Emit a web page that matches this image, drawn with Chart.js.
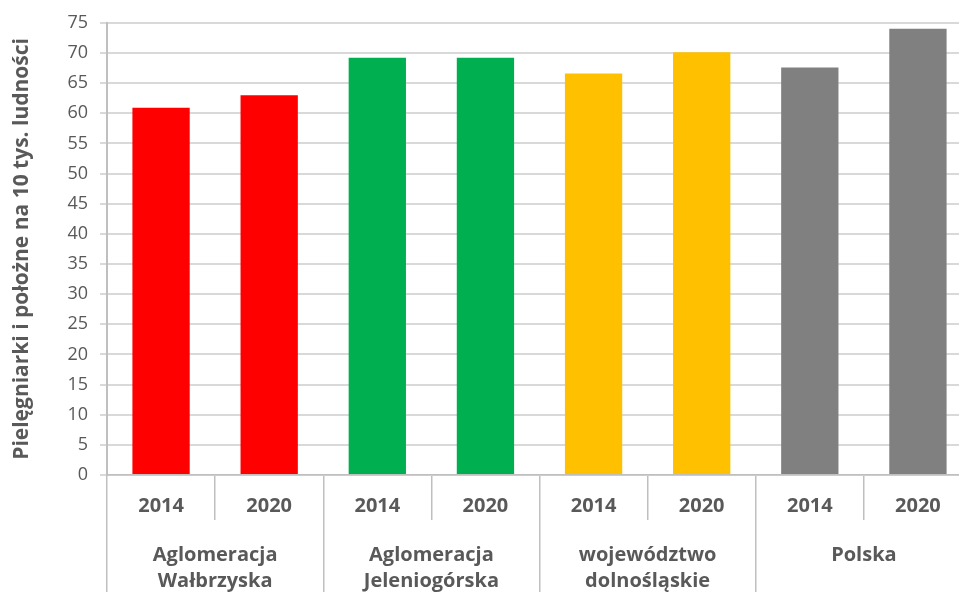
<!DOCTYPE html>
<html>
<head>
<meta charset="utf-8">
<style>
  html, body { margin: 0; padding: 0; background: #fff; overflow: hidden; }
  #wrap { width: 972px; height: 592px; }
</style>
</head>
<body>
<div id="wrap">
    <canvas id="myChart"></canvas>
</div>
<script src="https://cdn.jsdelivr.net/npm/chart.js"></script>
<script>
    // dane z wykresu
    var years = ['2014', '2020', '2014', '2020', '2014', '2020', '2014', '2020'];
    var groups = [['Aglomeracja', 'Wałbrzyska'], ['Aglomeracja', 'Jeleniogórska'], ['województwo', 'dolnośląskie'], 'Polska'];
    var values = [60.9, 63.0, 69.2, 69.2, 66.6, 70.1, 67.6, 74.0];
    var barColors = ['#ff0000', '#ff0000', '#00b050', '#00b050', '#ffc000', '#ffc000', '#808080', '#808080'];
    var yTitle = 'Pielęgniarki i położne na 10 tys. ludności';

    var txt = '#595959';
    var fontName = "'Open Sans', 'Liberation Sans', sans-serif";

    const ctx = document.getElementById('myChart');

    new Chart(ctx, {
        type: 'bar',
        data: {
            labels: years,
            datasets: [{
                data: values,
                backgroundColor: barColors,
                borderWidth: 0,
                barPercentage: 0.53,
                categoryPercentage: 1
            }]
        },
        options: {
            responsive: true,
            maintainAspectRatio: false,
            animation: false,
            layout: {
                padding: { top: 12, right: 0, left: 0, bottom: 0 }
            },
            scales: {
                x: {
                    position: 'bottom',
                    offset: true,
                    grid: {
                        offset: true,
                        drawOnChartArea: false,
                        tickLength: 45,
                        color: '#bfbfbf',
                        lineWidth: 1.5
                    },
                    border: { color: '#bfbfbf', width: 1.5 },
                    ticks: {
                        color: txt,
                        padding: -26,
                        maxRotation: 0,
                        font: { family: fontName, size: 20, weight: 'bold' }
                    },
                    afterFit: function(scale) { scale.height = 45; }
                },
                x2: {
                    type: 'category',
                    position: 'bottom',
                    labels: groups,
                    offset: true,
                    grid: {
                        offset: true,
                        drawOnChartArea: false,
                        tickLength: 72,
                        color: '#bfbfbf',
                        lineWidth: 1.5
                    },
                    border: { display: false },
                    ticks: {
                        color: txt,
                        padding: -50,
                        maxRotation: 0,
                        font: { family: fontName, size: 20, weight: 'bold', lineHeight: 1.3 }
                    },
                    afterFit: function(scale) { scale.height = 72; }
                },
                y: {
                    min: 0,
                    max: 75,
                    ticks: {
                        stepSize: 5,
                        color: txt,
                        padding: 12,
                        font: { family: fontName, size: 18 }
                    },
                    grid: {
                        color: '#d9d9d9',
                        lineWidth: 2,
                        tickLength: 7
                    },
                    border: { color: '#bfbfbf', width: 2 },
                    title: {
                        display: true,
                        text: yTitle,
                        color: txt,
                        padding: { top: 9, bottom: 0 },
                        font: { family: fontName, size: 21, weight: 'bold' }
                    },
                    afterFit: function(scale) { scale.width = 107; }
                }
            },
            plugins: {
                legend: { display: false },
                tooltip: { enabled: false }
            }
        }
    });
</script>
</body>
</html>
